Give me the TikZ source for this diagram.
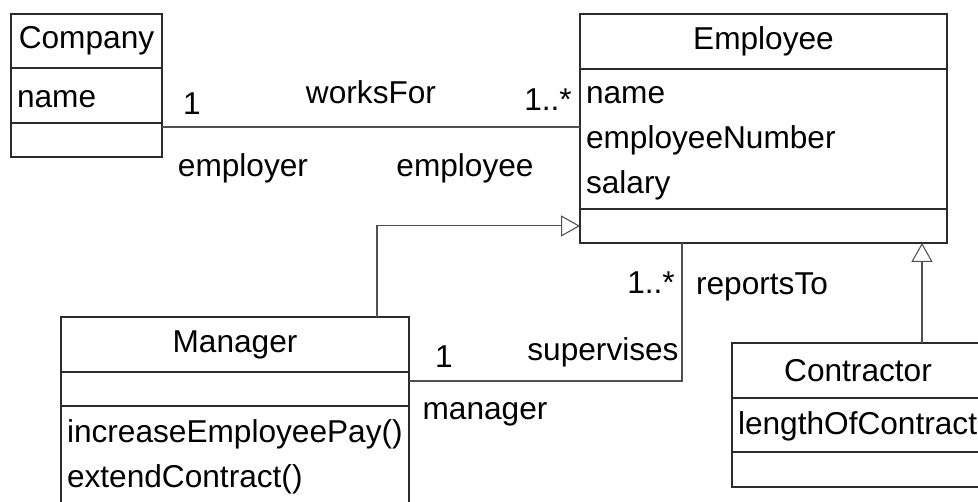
\documentclass[tikz,border=0pt]{standalone}
\usepackage{fontspec}
\setmainfont{Liberation Sans}
\usetikzlibrary{positioning,arrows.meta}
\definecolor{boxcol}{HTML}{2B2B2B}
\definecolor{linecol}{HTML}{505050}
\tikzset{%
	classname/.style = {draw=boxcol, line width=1.1pt, rectangle, outer sep=0pt,
		inner sep=0pt, minimum height=1.1cm, align=center}, % class name part
	members/.style   = {draw=boxcol, line width=1.1pt, rectangle, outer sep=0pt,
		inner xsep=0.12cm, inner ysep=0pt, align=left,
		execute at begin node={\rule{0pt}{0.8em}}}, % attributes / operations
	assoc/.style     = {draw=linecol, line width=0.6pt}, % association
	inherit/.style   = {draw=linecol, line width=0.6pt,
		-{Triangle[open,length=10.8pt,width=12pt]}}, % generalization
	role/.style      = {inner sep=0pt} % multiplicities and role names
}

\begin{document}
\begin{tikzpicture}[x=0.02cm,y=-0.02cm,font=\fontsize{18pt}{25.6pt}\selectfont]
	\useasboundingbox (0,0) rectangle (978,501);
	
	% classes
	\node[classname, minimum width=3.02cm, minimum height=1.08cm] at (86.5,41) (company) {Company};
	\node[members, below=0pt of company, text width=2.78cm, minimum height=1.1cm] (company-attr) {name};
	\node[members, below=0pt of company-attr, text width=2.78cm, minimum height=0.68cm] (company-ops) {};
	
	\node[classname, minimum width=7.34cm] at (763.5,41.5) (employee) {Employee};
	\node[members, below=0pt of employee, text width=7.10cm, minimum height=2.8cm] (employee-attr) {name\\employeeNumber\\salary};
	\node[members, below=0pt of employee-attr, text width=7.10cm, minimum height=0.68cm] (employee-ops) {};
	
	\node[classname, minimum width=6.96cm] at (235,344.5) (manager) {Manager};
	\node[members, below=0pt of manager, text width=6.72cm, minimum height=0.68cm] (manager-attr) {};
	\node[members, below=0pt of manager-attr, text width=6.72cm, minimum height=2.0cm] (manager-ops) {increaseEmployeePay()\\extendContract()};
	
	\node[classname, minimum width=5.04cm] at (858,370.5) (contractor) {Contractor};
	\node[members, below=0pt of contractor, text width=4.80cm, minimum height=1.08cm] (contractor-attr) {lengthOfContract};
	\node[members, below=0pt of contractor-attr, text width=4.80cm, minimum height=0.7cm] (contractor-ops) {};
	
	% connector ends
	\coordinate (wf-a) at ([yshift=-0.08cm]company-ops.north east);
	\coordinate (sup-a) at ([yshift=0.16cm]manager-attr.east);
	\coordinate (sup-b) at ([xshift=2.04cm]employee-ops.south west);
	\coordinate (mgr-top) at ([xshift=-0.64cm]manager.north east);
	\coordinate (con-top) at ([xshift=1.28cm]contractor.north);
	
	\draw[assoc] (wf-a) -- (wf-a -| employee-attr.west);
	\draw[assoc] (sup-a) -| (sup-b);
	\draw[inherit] (mgr-top) |- (employee-ops.west);
	\draw[inherit] (con-top) -- (con-top |- employee-ops.south);
	
	% labels
	\node[role] at (192,104) (wf-one) {1};
	\node[role] at (371,92) (wf-name) {worksFor};
	\node[role] at (548,100) (wf-many) {1..*};
	\node[role] at (243,168) (wf-employer) {employer};
	\node[role] at (465,168) (wf-employee) {employee};
	
	\node[role] at (444,357) (sup-one) {1};
	\node[role] at (603,352) (sup-name) {supervises};
	\node[role] at (651,283) (sup-many) {1..*};
	\node[role] at (762,287) (sup-reports) {reportsTo};
	\node[role] at (485,414) (sup-manager) {manager};
	
\end{tikzpicture}
\end{document}
